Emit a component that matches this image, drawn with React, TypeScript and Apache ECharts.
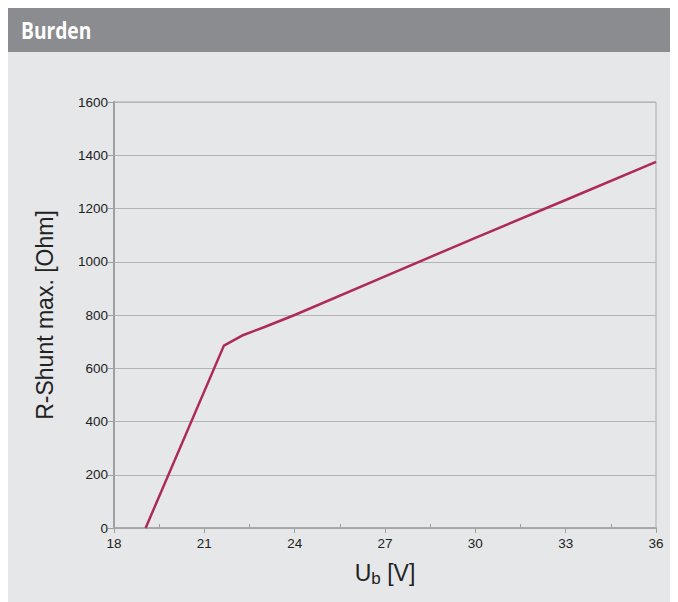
import React, { useEffect, useRef } from "react";
import * as echarts from "echarts";

const xValues = [19.05, 21.65, 22.3, 23, 24, 27, 30, 33, 36];
const yValues = [0, 685, 725, 755, 800, 945, 1090, 1232, 1375];
const minorTickValues = [19.5, 22.5, 25.5, 28.5, 31.5, 34.5];
const titleText = "Burden";
const yAxisName = "R-Shunt max. [Ohm]";

export default function App() {
  const ref = useRef<HTMLDivElement>(null);
  useEffect(() => {
    if (!ref.current) return;
    const chart = echarts.init(ref.current, null, { renderer: "svg" });
    const font = "'Liberation Sans', Arial, sans-serif";
    chart.setOption({
      animation: false,
      backgroundColor: "#e6e7e9",
      graphic: [
        { type: "rect", left: 0, top: 0, shape: { width: 670, height: 44 }, style: { fill: "#8b8c8f" } },
        {
          type: "text",
          x: 13,
          y: 22,
          scaleX: 0.8,
          style: {
            text: titleText,
            fill: "#ffffff",
            font: "bold 24px 'Open Sans', sans-serif",
            textVerticalAlign: "middle",
          },
        },
      ],
      grid: {
        left: 106,
        right: 22,
        top: 94,
        bottom: 74,
        show: true,
        borderColor: "#aaaaaa",
        borderWidth: 1,
        backgroundColor: "transparent",
      },
      xAxis: [
        {
          type: "value",
          min: 18,
          max: 36,
          interval: 3,
          position: "bottom",
          axisLine: { show: true, lineStyle: { color: "#a0a0a0", width: 1.5 } },
          axisTick: { show: true, length: 5, lineStyle: { color: "#a0a0a0" } },
          axisLabel: { color: "#222", fontSize: 13.5, fontFamily: font, margin: 8 },
          splitLine: { show: false },
          name: "{a|U}{b|b}{a| [V]}",
          nameLocation: "middle",
          nameGap: 31,
          nameTextStyle: {
            rich: {
              a: { fontSize: 23, color: "#222", fontFamily: font },
              b: { fontSize: 17, color: "#222", fontFamily: font, padding: [11, 0, 0, 0] },
            },
          },
        },
        {
          type: "value",
          min: 18,
          max: 36,
          position: "bottom",
          offset: 0,
          axisLine: { show: false },
          axisTick: {
            show: true,
            inside: true,
            length: 4,
            customValues: minorTickValues,
            lineStyle: { color: "#a0a0a0" },
          },
          axisLabel: { show: false },
          splitLine: { show: false },
        },
      ],
      yAxis: {
        type: "value",
        min: 0,
        max: 1600,
        interval: 200,
        axisLine: { show: true, lineStyle: { color: "#a0a0a0", width: 2 } },
        axisTick: { show: true, length: 6, lineStyle: { color: "#a0a0a0" } },
        axisLabel: {
          color: "#222",
          fontSize: 13.5,
          fontFamily: font,
          margin: 6,
          formatter: (v: number) => String(v),
        },
        splitLine: { show: true, lineStyle: { color: "#b4b4b4", width: 1 } },
        name: yAxisName,
        nameLocation: "middle",
        nameGap: 58,
        nameTextStyle: { fontSize: 23, color: "#222", fontFamily: font },
      },
      series: [
        {
          type: "line",
          data: xValues.map((x, i) => [x, yValues[i]]),
          showSymbol: false,
          lineStyle: { color: "#ad2a5b", width: 2.5 },
          xAxisIndex: 0,
        },
      ],
    });
    return () => chart.dispose();
  }, []);
  return <div ref={ref} style={{ width: 670, height: 594 }} />;
}
